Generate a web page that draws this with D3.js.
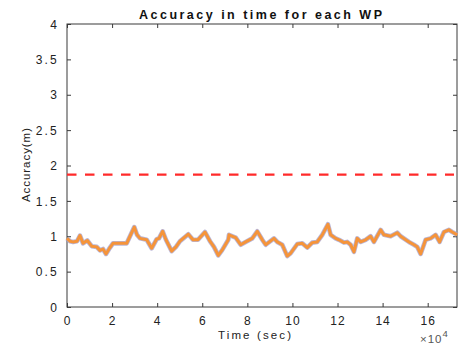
<!DOCTYPE html>
<html><head><meta charset="utf-8">
<script src="https://cdn.jsdelivr.net/npm/d3@7"></script>
<style>body{margin:0;background:#fff}svg{display:block}text{font-family:"Liberation Sans",Arial,sans-serif}</style>
</head><body>
<script>
const timeSec = [0,1330,2660,4435,5765,7100,9000,10950,13170,14640,15970,17300,19070,20400,23500,26480,27940,29850,31050,32380,35350,37560,39780,40800,42440,43900,46430,48340,50110,53800,55880,58100,61200,63420,65190,67100,68740,71540,71850,74820,77040,79250,82180,84400,86620,88120,91800,93270,95490,97700,99210,102140,104360,106570,108790,111000,113230,115750,116950,119170,120640,122850,124320,125820,127290,128750,130260,132470,134690,136150,139130,140590,143560,146490,148000,151680,153900,155350,156870,159080,161300,163520,165290,167200,169420,170880,173100];
const accuracy = [0.97,0.93,0.92,0.93,1.01,0.90,0.94,0.86,0.85,0.80,0.82,0.75,0.84,0.90,0.90,0.90,1.00,1.13,1.02,0.97,0.95,0.83,0.96,0.97,1.07,0.95,0.79,0.85,0.93,1.03,0.95,0.95,1.06,0.93,0.85,0.73,0.80,0.95,1.02,0.98,0.88,0.92,0.97,1.07,0.95,0.88,0.97,0.92,0.88,0.72,0.76,0.89,0.90,0.84,0.91,0.92,1.02,1.17,1.02,0.97,0.95,0.91,0.92,0.88,0.78,0.97,0.92,0.95,1.00,0.92,1.09,1.02,1.00,1.05,1.00,0.92,0.88,0.85,0.75,0.95,0.97,1.02,0.92,1.06,1.09,1.06,1.02];
const threshold = 1.87;
const xTicks = [0,20000,40000,60000,80000,100000,120000,140000,160000];
const yTicks = [0,0.5,1,1.5,2,2.5,3,3.5,4];
const titleText = "Accuracy in time for each WP";
const xLabel = "Time (sec)";
const yLabel = "Accuracy(m)";

const W = 459, H = 344;
const m = {left:67, right:2, top:24, bottom:37};
const svg = d3.select("body").append("svg").attr("width",W).attr("height",H);
const x = d3.scaleLinear().domain([0,173000]).range([m.left, W-m.right]);
const y = d3.scaleLinear().domain([0,4]).range([H-m.bottom, m.top]);

const axCol = "#3a3a3a";
svg.append("rect").attr("x",x(0)).attr("y",y(4)).attr("width",x(173000)-x(0)).attr("height",y(0)-y(4))
  .attr("fill","none").attr("stroke",axCol).attr("stroke-width",1);

const gx = svg.append("g").attr("transform",`translate(0,${y(0)})`)
  .call(d3.axisBottom(x).tickValues(xTicks).tickSizeInner(-4).tickSizeOuter(0).tickPadding(9).tickFormat(d=>d/10000));
const gxt = svg.append("g").attr("transform",`translate(0,${y(4)})`)
  .call(d3.axisTop(x).tickValues(xTicks).tickSizeInner(-4).tickSizeOuter(0).tickFormat(""));
const gy = svg.append("g").attr("transform",`translate(${x(0)},0)`)
  .call(d3.axisLeft(y).tickValues(yTicks).tickSizeInner(-4).tickSizeOuter(0).tickPadding(8).tickFormat(d=>d));
const gyr = svg.append("g").attr("transform",`translate(${x(173000)},0)`)
  .call(d3.axisRight(y).tickValues(yTicks).tickSizeInner(-4).tickSizeOuter(0).tickFormat(""));
[gx,gxt,gy,gyr].forEach(g=>{
  g.select(".domain").remove();
  g.selectAll(".tick line").attr("stroke",axCol);
  g.selectAll("text").attr("fill","#222").style("font-size","12px").style("font-family","'Liberation Sans',Arial,sans-serif");
});
gx.selectAll("text").style("letter-spacing","1px");
gy.selectAll("text").style("letter-spacing","2.2px").attr("dy","0.35em");

svg.append("line").attr("x1",x(0)).attr("x2",x(173000)-3).attr("y1",y(threshold)).attr("y2",y(threshold))
  .attr("stroke","#ff2a2a").attr("stroke-width",2.3).attr("stroke-dasharray","9.5,8.5");

const line = d3.line().x((d,i)=>x(timeSec[i])).y((d,i)=>y(accuracy[i]));
svg.append("path").datum(accuracy).attr("d",line).attr("fill","none")
  .attr("stroke","#a8a3cc").attr("stroke-width",4.6).attr("stroke-linejoin","round").attr("opacity",0.8);
svg.append("path").datum(accuracy).attr("d",line).attr("fill","none")
  .attr("stroke","#f5943a").attr("stroke-width",3).attr("stroke-linejoin","round");

svg.append("text").attr("x",139).attr("y",19).attr("textLength",243).attr("lengthAdjust","spacing")
  .style("font-weight","bold").style("font-size","12.5px").attr("fill","#111").text(titleText);
svg.append("text").attr("x",218).attr("y",339).attr("textLength",73).attr("lengthAdjust","spacing")
  .style("font-size","11.5px").attr("fill","#222").text(xLabel);
const ex = svg.append("text").attr("x",420).attr("y",343).style("font-size","11.5px").attr("fill","#555");
ex.append("tspan").text("\u00d7");
ex.append("tspan").attr("dx",1).style("letter-spacing","1px").text("10");
ex.append("tspan").attr("dy",-6).style("font-size","9.5px").text("4");
svg.append("text").attr("transform","translate(30,202) rotate(-90)").attr("textLength",74).attr("lengthAdjust","spacing")
  .style("font-size","11.5px").attr("fill","#222").text(yLabel);
</script>
</body></html>
